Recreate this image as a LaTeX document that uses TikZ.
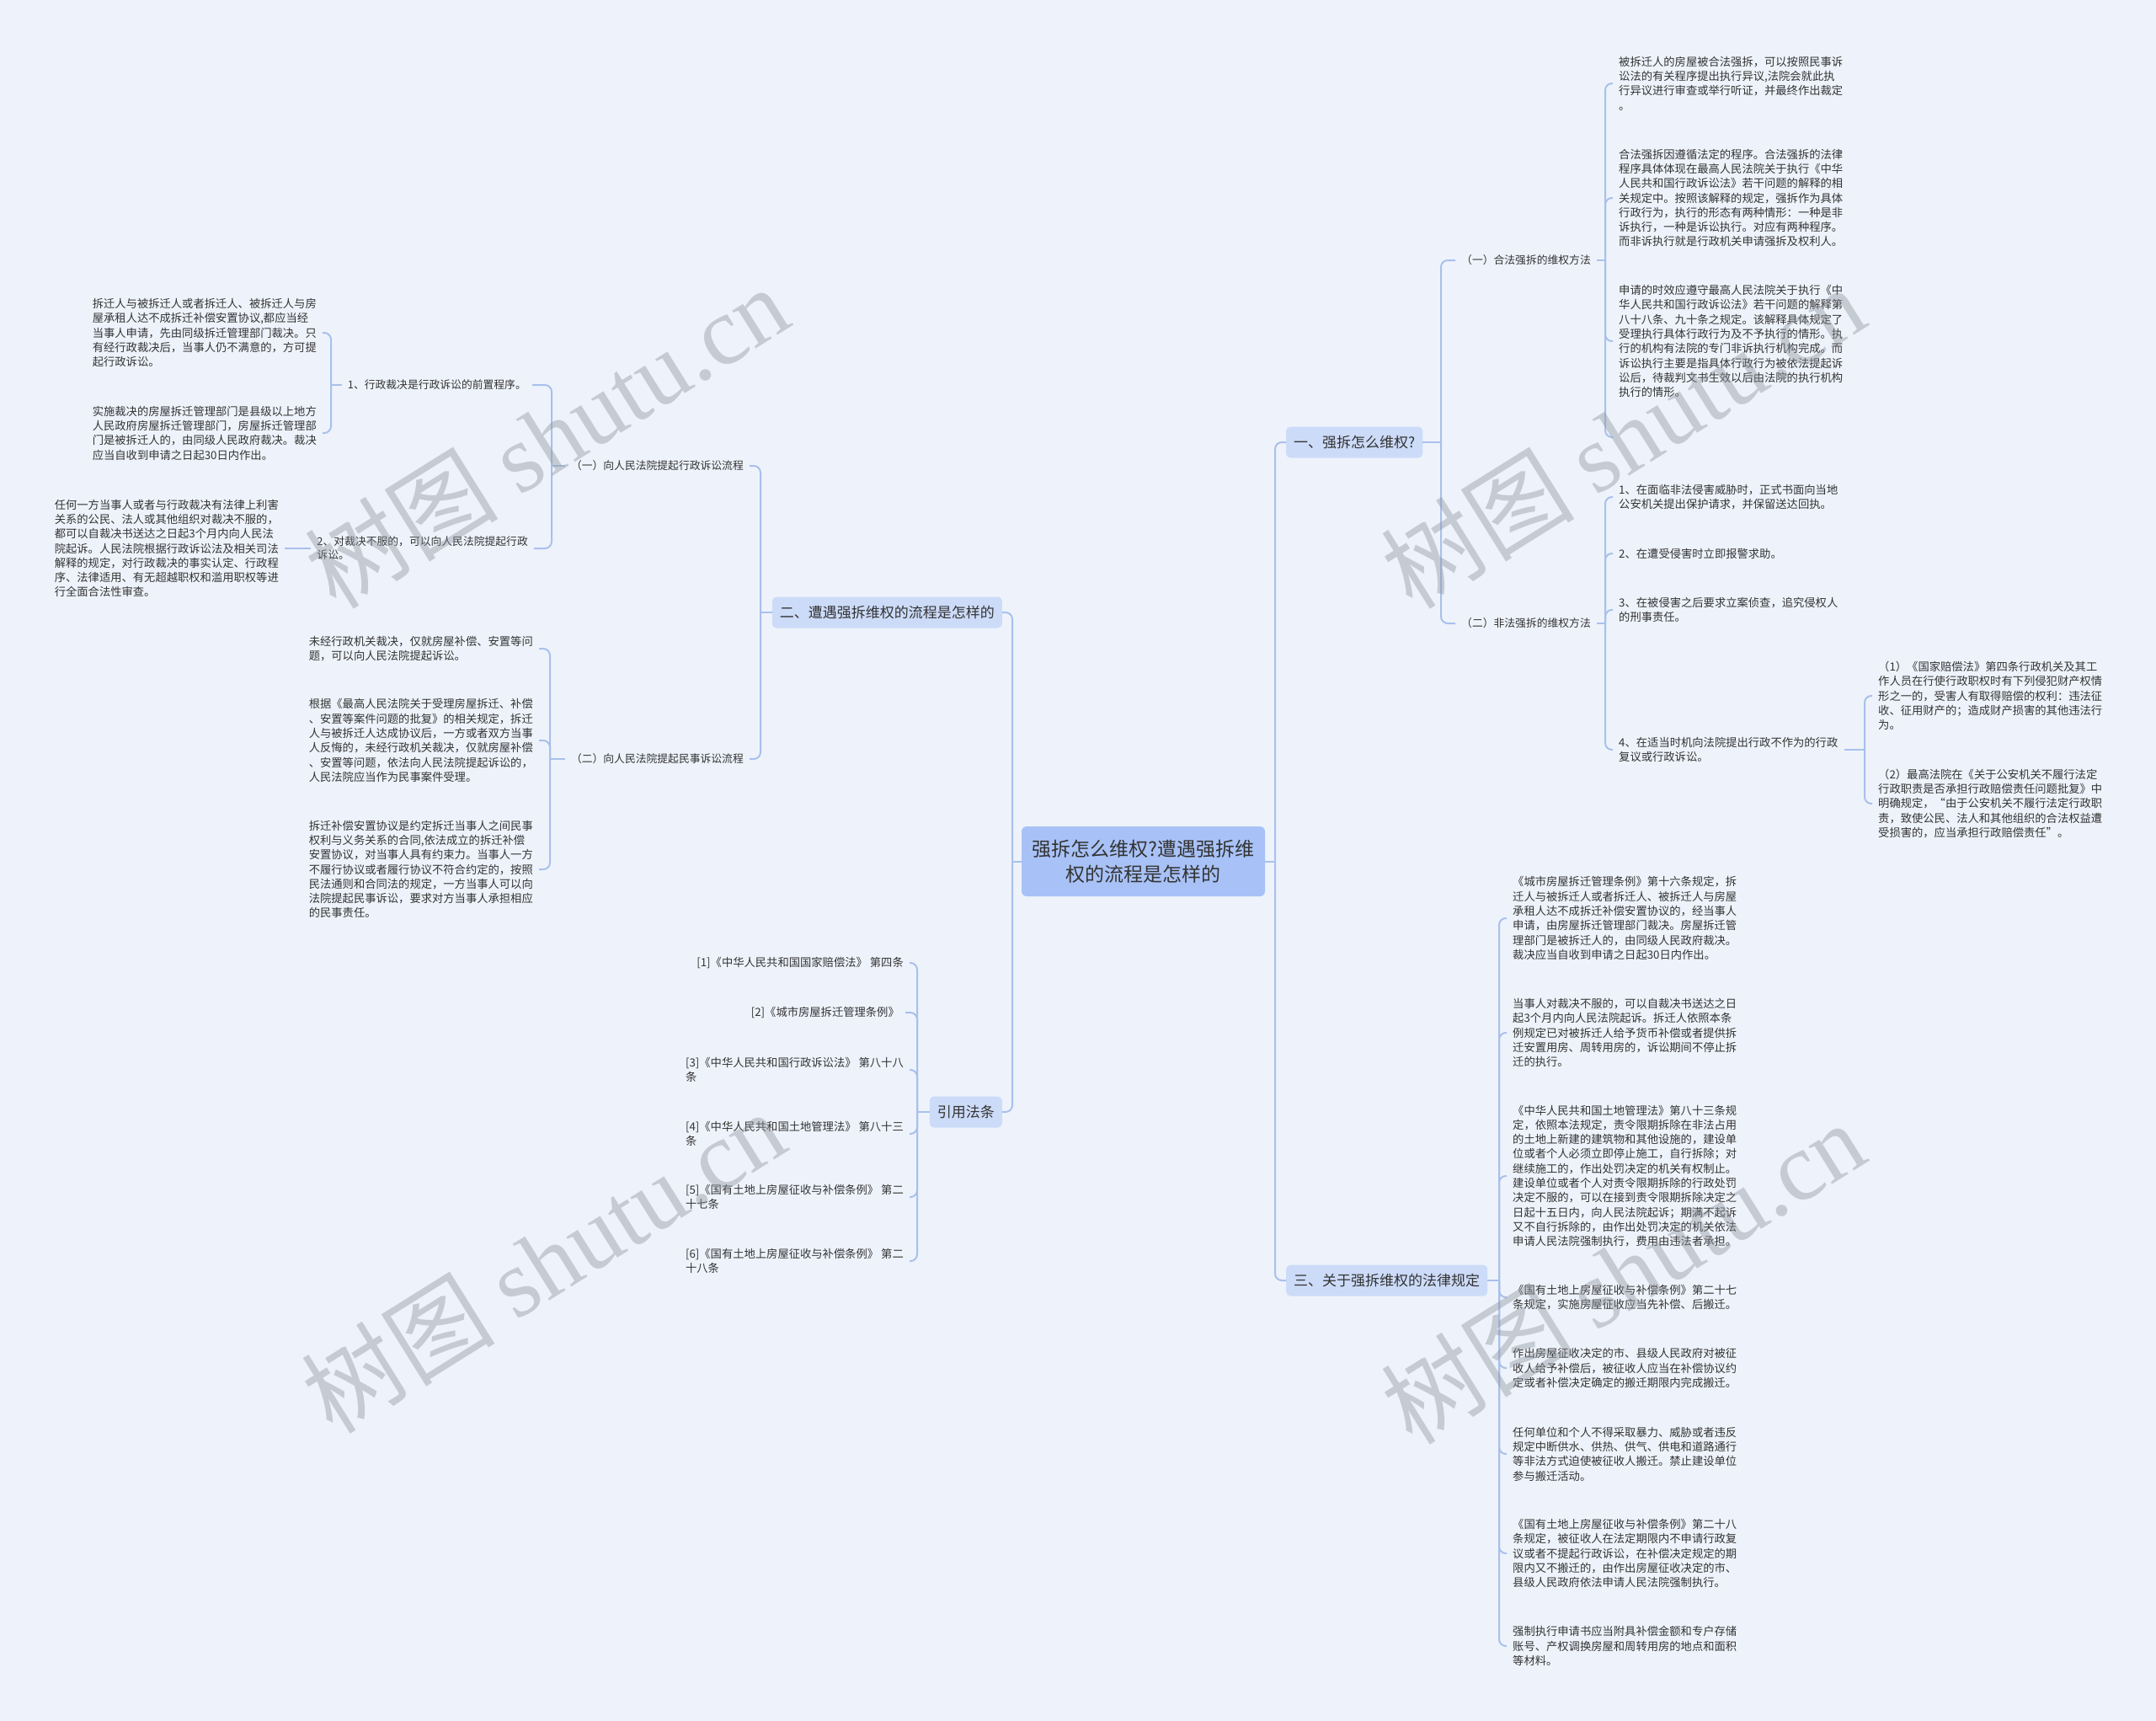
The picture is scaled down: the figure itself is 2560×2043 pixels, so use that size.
\documentclass[tikz,border=0pt]{standalone}
\usepackage{fontspec}
\setmainfont{Noto Sans CJK SC}
\newfontfamily\wmserif{Liberation Serif}
\usetikzlibrary{calc}
\definecolor{bgc}{HTML}{EEF3FB}
\definecolor{lnc}{HTML}{A9C0EC}
\definecolor{cfill}{HTML}{A8C2F7}
\definecolor{bfill}{HTML}{CCDBF8}
\definecolor{txt}{HTML}{333333}
\definecolor{wmc}{HTML}{8E949E}
\begin{document}
\begin{tikzpicture}[x=1pt,y=-1pt,
 conn/.style={draw=lnc, line width=2pt, rounded corners=8pt},
 body/.style={font=\fontsize{13.3}{17.3}\selectfont, text=txt, align=left, inner xsep=7pt, inner ysep=1pt},
 mid/.style={font=\fontsize{12.8}{16}\selectfont, text=txt, align=left, inner xsep=7pt, inner ysep=1pt},
 branch/.style={fill=bfill, rounded corners=5pt, font=\fontsize{17}{20}\selectfont, text=txt, inner xsep=9pt, inner ysep=0pt, minimum height=37pt},
 root/.style={fill=cfill, rounded corners=6pt, font=\fontsize{23}{30}\selectfont, text=txt, align=center, minimum width=289pt, minimum height=83pt, inner sep=0pt},
 wm/.style={font=\fontsize{115}{115}\selectfont, text=wmc, text opacity=0.42, rotate=32}
]
\fill[bgc] (0,0) rectangle (2560,2043);
\useasboundingbox (0,0) rectangle (2560,2043);

% root and main branches
\node[root] (C) at (1357.5,1022.5) {强拆怎么维权?遭遇强拆维\\权的流程是怎样的};
\node[branch, anchor=west] (B1) at (1527,525) {一、强拆怎么维权?};
\node[branch, anchor=west] (B3) at (1527,1520) {三、关于强拆维权的法律规定};
\node[branch, anchor=east] (B2) at (1190,727) {二、遭遇强拆维权的流程是怎样的};
\node[branch, anchor=east] (B4) at (1190,1320) {引用法条};

% section one
\node[mid, anchor=west] (S11) at (1728,309) {（一）合法强拆的维权方法};
\node[mid, anchor=west] (S12) at (1728,740) {（二）非法强拆的维权方法};

\node[body, anchor=west] (P1) at (1915,99) {被拆迁人的房屋被合法强拆，可以按照民事诉\\讼法的有关程序提出执行异议,法院会就此执\\行异议进行审查或举行听证，并最终作出裁定\\。};
\node[body, anchor=west] (P2) at (1915,235) {合法强拆因遵循法定的程序。合法强拆的法律\\程序具体体现在最高人民法院关于执行《中华\\人民共和国行政诉讼法》若干问题的解释的相\\关规定中。按照该解释的规定，强拆作为具体\\行政行为，执行的形态有两种情形：一种是非\\诉执行，一种是诉讼执行。对应有两种程序。\\而非诉执行就是行政机关申请强拆及权利人。};
\node[body, anchor=west] (P3) at (1915,405) {申请的时效应遵守最高人民法院关于执行《中\\华人民共和国行政诉讼法》若干问题的解释第\\八十八条、九十条之规定。该解释具体规定了\\受理执行具体行政行为及不予执行的情形。执\\行的机构有法院的专门非诉执行机构完成。而\\诉讼执行主要是指具体行政行为被依法提起诉\\讼后，待裁判文书生效以后由法院的执行机构\\执行的情形。};
\coordinate (E1) at (1915,519);

\node[body, anchor=west] (Q1) at (1915,590) {1、在面临非法侵害威胁时，正式书面向当地\\公安机关提出保护请求，并保留送达回执。};
\node[body, anchor=west] (Q2) at (1915,657) {2、在遭受侵害时立即报警求助。};
\node[body, anchor=west] (Q3) at (1915,724) {3、在被侵害之后要求立案侦查，追究侵权人\\的刑事责任。};
\node[body, anchor=west] (Q4) at (1915,890) {4、在适当时机向法院提出行政不作为的行政\\复议或行政诉讼。};

\node[body, anchor=west] (R1) at (2223,826) {（1）《国家赔偿法》第四条行政机关及其工\\作人员在行使行政职权时有下列侵犯财产权情\\形之一的，受害人有取得赔偿的权利：违法征\\收、征用财产的；造成财产损害的其他违法行\\为。};
\node[body, anchor=west] (R2) at (2223,954) {（2）最高法院在《关于公安机关不履行法定\\行政职责是否承担行政赔偿责任问题批复》中\\明确规定，“由于公安机关不履行法定行政职\\责，致使公民、法人和其他组织的合法权益遭\\受损害的，应当承担行政赔偿责任”。};

% section three
\node[body, anchor=west] (G1) at (1789,1090) {《城市房屋拆迁管理条例》第十六条规定，拆\\迁人与被拆迁人或者拆迁人、被拆迁人与房屋\\承租人达不成拆迁补偿安置协议的，经当事人\\申请，由房屋拆迁管理部门裁决。房屋拆迁管\\理部门是被拆迁人的，由同级人民政府裁决。\\裁决应当自收到申请之日起30日内作出。};
\node[body, anchor=west] (G2) at (1789,1226) {当事人对裁决不服的，可以自裁决书送达之日\\起3个月内向人民法院起诉。拆迁人依照本条\\例规定已对被拆迁人给予货币补偿或者提供拆\\迁安置用房、周转用房的，诉讼期间不停止拆\\迁的执行。};
\node[body, anchor=west] (G3) at (1789,1396) {《中华人民共和国土地管理法》第八十三条规\\定，依照本法规定，责令限期拆除在非法占用\\的土地上新建的建筑物和其他设施的，建设单\\位或者个人必须立即停止施工，自行拆除；对\\继续施工的，作出处罚决定的机关有权制止。\\建设单位或者个人对责令限期拆除的行政处罚\\决定不服的，可以在接到责令限期拆除决定之\\日起十五日内，向人民法院起诉；期满不起诉\\又不自行拆除的，由作出处罚决定的机关依法\\申请人民法院强制执行，费用由违法者承担。};
\node[body, anchor=west] (G4) at (1789,1540) {《国有土地上房屋征收与补偿条例》第二十七\\条规定，实施房屋征收应当先补偿、后搬迁。};
\node[body, anchor=west] (G5) at (1789,1624) {作出房屋征收决定的市、县级人民政府对被征\\收人给予补偿后，被征收人应当在补偿协议约\\定或者补偿决定确定的搬迁期限内完成搬迁。};
\node[body, anchor=west] (G6) at (1789,1726) {任何单位和个人不得采取暴力、威胁或者违反\\规定中断供水、供热、供气、供电和道路通行\\等非法方式迫使被征收人搬迁。禁止建设单位\\参与搬迁活动。};
\node[body, anchor=west] (G7) at (1789,1844) {《国有土地上房屋征收与补偿条例》第二十八\\条规定，被征收人在法定期限内不申请行政复\\议或者不提起行政诉讼，在补偿决定规定的期\\限内又不搬迁的，由作出房屋征收决定的市、\\县级人民政府依法申请人民法院强制执行。};
\node[body, anchor=west] (G8) at (1789,1954) {强制执行申请书应当附具补偿金额和专户存储\\账号、产权调换房屋和周转用房的地点和面积\\等材料。};

% section two (left)
\node[mid, anchor=east] (S21) at (890,553) {（一）向人民法院提起行政诉讼流程};
\node[mid, anchor=east] (S22) at (890,901) {（二）向人民法院提起民事诉讼流程};
\node[mid, anchor=east] (T1) at (632,457) {1、行政裁决是行政诉讼的前置程序。};
\node[mid, anchor=east] (T2) at (634,651) {2、对裁决不服的，可以向人民法院提起行政\\诉讼。};
\node[body, anchor=east] (L1) at (383,395) {拆迁人与被拆迁人或者拆迁人、被拆迁人与房\\屋承租人达不成拆迁补偿安置协议,都应当经\\当事人申请，先由同级拆迁管理部门裁决。只\\有经行政裁决后，当事人仍不满意的，方可提\\起行政诉讼。};
\node[body, anchor=east] (L2) at (383,514) {实施裁决的房屋拆迁管理部门是县级以上地方\\人民政府房屋拆迁管理部门，房屋拆迁管理部\\门是被拆迁人的，由同级人民政府裁决。裁决\\应当自收到申请之日起30日内作出。};
\node[body, anchor=east] (L3) at (338,651) {任何一方当事人或者与行政裁决有法律上利害\\关系的公民、法人或其他组织对裁决不服的，\\都可以自裁决书送达之日起3个月内向人民法\\院起诉。人民法院根据行政诉讼法及相关司法\\解释的规定，对行政裁决的事实认定、行政程\\序、法律适用、有无超越职权和滥用职权等进\\行全面合法性审查。};
\node[body, anchor=east] (M1) at (640,770) {未经行政机关裁决，仅就房屋补偿、安置等问\\题，可以向人民法院提起诉讼。};
\node[body, anchor=east] (M2) at (640,879) {根据《最高人民法院关于受理房屋拆迁、补偿\\、安置等案件问题的批复》的相关规定，拆迁\\人与被拆迁人达成协议后，一方或者双方当事\\人反悔的，未经行政机关裁决，仅就房屋补偿\\、安置等问题，依法向人民法院提起诉讼的，\\人民法院应当作为民事案件受理。};
\node[body, anchor=east] (M3) at (640,1032) {拆迁补偿安置协议是约定拆迁当事人之间民事\\权利与义务关系的合同,依法成立的拆迁补偿\\安置协议，对当事人具有约束力。当事人一方\\不履行协议或者履行协议不符合约定的，按照\\民法通则和合同法的规定，一方当事人可以向\\法院提起民事诉讼，要求对方当事人承担相应\\的民事责任。};

% references
\node[body, anchor=east] (F1) at (1080,1143) {[1]《中华人民共和国国家赔偿法》 第四条};
\node[body, anchor=east] (F2) at (1075,1202) {[2]《城市房屋拆迁管理条例》};
\node[body, anchor=east] (F3) at (1080,1270) {[3]《中华人民共和国行政诉讼法》 第八十八\\条};
\node[body, anchor=east] (F4) at (1080,1346) {[4]《中华人民共和国土地管理法》 第八十三\\条};
\node[body, anchor=east] (F5) at (1080,1421) {[5]《国有土地上房屋征收与补偿条例》 第二\\十七条};
\node[body, anchor=east] (F6) at (1080,1497) {[6]《国有土地上房屋征收与补偿条例》 第二\\十八条};

% junctions
\coordinate (jR) at (C.east -| 1514,0);
\coordinate (jL) at (C.west -| 1202,0);
\coordinate (jB1) at (B1.east -| 1711,0);
\coordinate (jS11) at (S11.east -| 1906,0);
\coordinate (jS12) at (S12.east -| 1906,0);
\coordinate (jQ4) at (Q4.east -| 2214,0);
\coordinate (jB3) at (B3.east -| 1780,0);
\coordinate (jB2) at (B2.west -| 903,0);
\coordinate (jS21) at (S21.west -| 655,0);
\coordinate (jT1) at (T1.west -| 393,0);
\coordinate (jS22) at (S22.west -| 653,0);
\coordinate (jB4) at (B4.west -| 1089,0);

% connectors
\draw[conn] (C.east) -- (jR);
\draw[conn] (jR) |- (B1.west);
\draw[conn] (jR) |- (B3.west);
\draw[conn] (C.west) -- (jL);
\draw[conn] (jL) |- (B2.east);
\draw[conn] (jL) |- (B4.east);

\draw[conn] (B1.east) -- (jB1);
\draw[conn] (jB1) |- (S11.west);
\draw[conn] (jB1) |- (S12.west);
\draw[conn] (S11.east) -- (jS11);
\foreach \c in {P1,P2,P3} \draw[conn] (jS11) |- (\c.west);
\draw[conn] (jS11) |- (E1);
\draw[conn] (S12.east) -- (jS12);
\foreach \c in {Q1,Q2,Q3,Q4} \draw[conn] (jS12) |- (\c.west);
\draw[conn] (Q4.east) -- (jQ4);
\foreach \c in {R1,R2} \draw[conn] (jQ4) |- (\c.west);

\draw[conn] (B3.east) -- (jB3);
\foreach \c in {G1,G2,G3,G4,G5,G6,G7,G8} \draw[conn] (jB3) |- (\c.west);

\draw[conn] (B2.west) -- (jB2);
\draw[conn] (jB2) |- (S21.east);
\draw[conn] (jB2) |- (S22.east);
\draw[conn] (S21.west) -- (jS21);
\draw[conn] (jS21) |- (T1.east);
\draw[conn] (jS21) |- (T2.east);
\draw[conn] (T1.west) -- (jT1);
\draw[conn] (jT1) |- (L1.east);
\draw[conn] (jT1) |- (L2.east);
\draw[conn] (T2.west) -- (L3.east);
\draw[conn] (S22.west) -- (jS22);
\foreach \c in {M1,M2,M3} \draw[conn] (jS22) |- (\c.east);

\draw[conn] (B4.west) -- (jB4);
\foreach \c in {F1,F2,F3,F4,F5,F6} \draw[conn] (jB4) |- (\c.east);

% watermarks
\node[wm] (W1) at (649,518) {树图 {\wmserif shutu.cn}};
\node[wm] (W2) at (1927,518) {树图 {\wmserif shutu.cn}};
\node[wm] (W3) at (645,1497) {树图 {\wmserif shutu.cn}};
\node[wm] (W4) at (1927,1510) {树图 {\wmserif shutu.cn}};
\end{tikzpicture}
\end{document}
